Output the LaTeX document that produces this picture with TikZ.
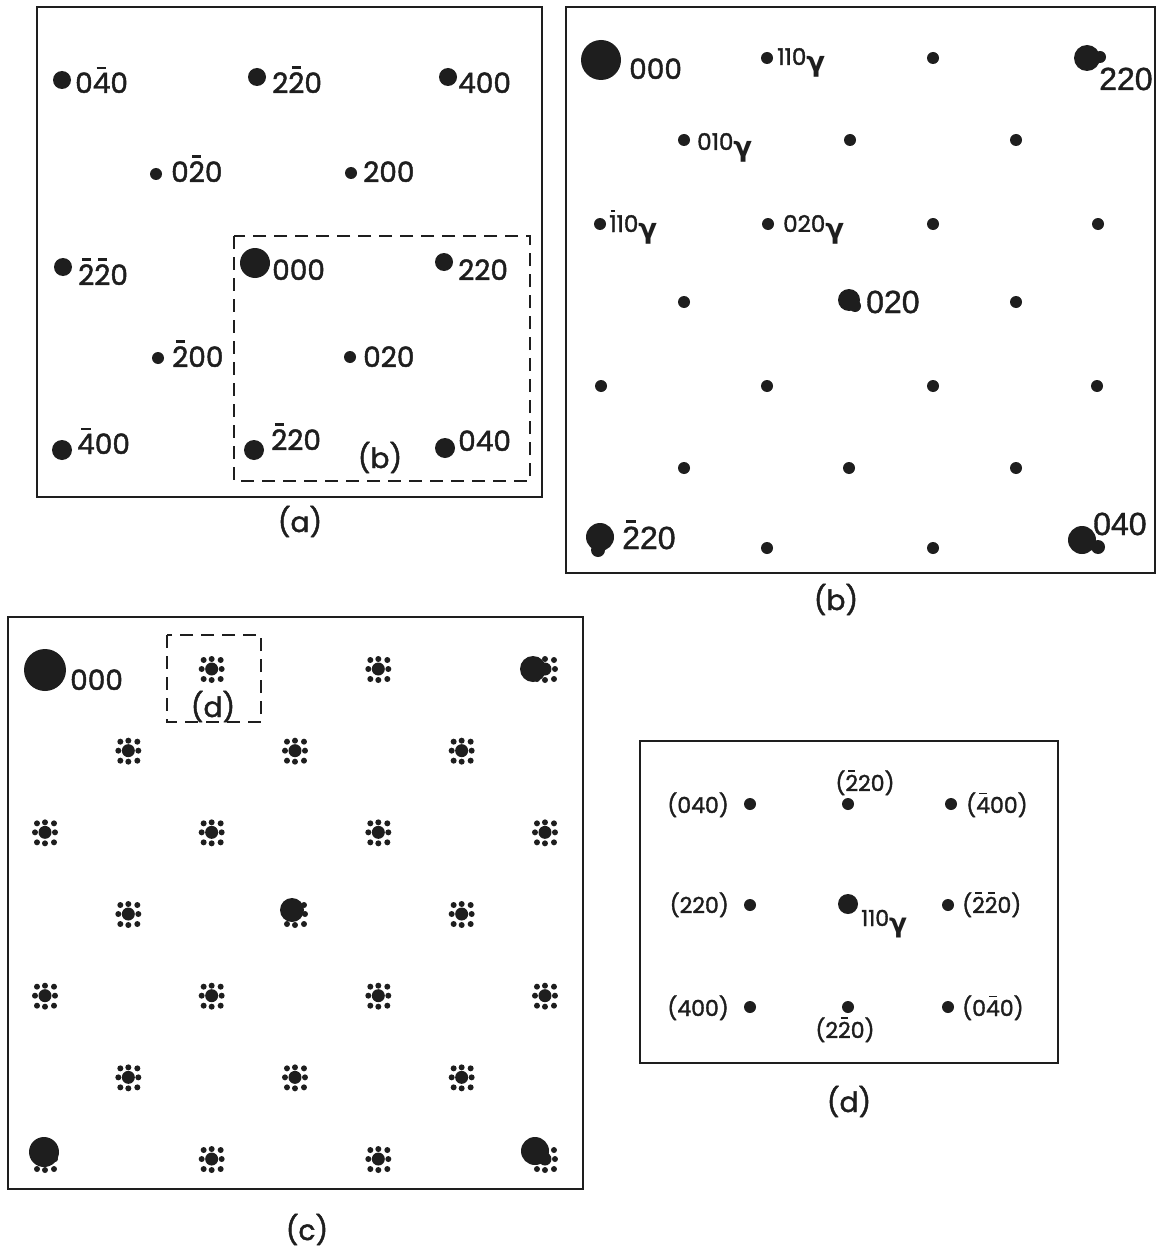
\documentclass[tikz,border=0pt]{standalone}
\usepackage{fontspec}
\setmainfont{Poppins}[BoldFont=Poppins,BoldFeatures={FakeBold=1.6}]
\newfontfamily\helv{Liberation Sans}[BoldFont=Liberation Sans,BoldFeatures={FakeBold=1.2}]
\newfontfamily\greekf{DejaVu Sans}
\definecolor{ink}{HTML}{1E1E1E}
\newsavebox\obbox
\newcommand\obar[1]{\leavevmode\sbox\obbox{#1}\rlap{\hbox to \wd\obbox{\hfil\raisebox{\dimexpr\ht\obbox+0.13em\relax}{\rule{0.55\wd\obbox}{0.085em}}\hfil}}\usebox\obbox}
\newcommand\gsub{\raisebox{-0.55ex}{\greekf\fontsize{1.2em}{1.2em}\selectfont γ}}
\newcommand\fa{\fontsize{28}{32}\selectfont\bfseries}
\newcommand\fb{\fontsize{23}{27}\selectfont\bfseries}
\newcommand\fbig{\helv\fontsize{32}{36}\selectfont\bfseries}
\newcommand\fdd{\fontsize{22}{26}\selectfont\bfseries}
\begin{document}
\begin{tikzpicture}[x=1pt,y=-1pt,
  spot/.style={circle,fill=ink,draw=none,inner sep=0pt,minimum size=#1},
  spot/.default=12pt,
  lbl/.style={anchor=base west,inner sep=0pt,text=ink},
  captxt/.style={anchor=base,inner sep=0pt,text=ink,font=\fa},
  frame/.style={draw=ink,line width=1.8pt},
  dbox/.style={draw=ink,line width=2.6pt,dash pattern=on 13pt off 8pt},
  cluster/.pic={
    \fill[ink] (0,0) circle (6.5pt);
    \foreach \dx/\dy in {-8/-9,0/-10,9/-9,-10/0,10/0,-8/10,0/11,9/10}
      \fill[ink] (\dx,\dy) circle (3pt);
  }]
\useasboundingbox (0,0) rectangle (1160,1252);

% ================= panel (a)
\draw[frame] (37,7) rectangle (542,497);
\draw[dbox] (234,236) rectangle (530,481);
\node[spot=18pt] (a1) at (62,80) {};
\node[lbl,font=\fa] (a1l) at (75,93) {0\obar{4}0};
\node[spot=18pt] (a2) at (257,77) {};
\node[lbl,font=\fa] (a2l) at (272,93) {2\obar{2}0};
\node[spot=18pt] (a3) at (448,77) {};
\node[lbl,font=\fa] (a3l) at (458,93) {400};
\node[spot=12pt] (a4) at (156,174) {};
\node[lbl,font=\fa] (a4l) at (171,182) {0\obar{2}0};
\node[spot=12pt] (a5) at (351,173) {};
\node[lbl,font=\fa] (a5l) at (363,182) {200};
\node[spot=18pt] (a6) at (63,267) {};
\node[lbl,font=\fa] (a6l) at (78,285) {\obar{2}\obar{2}0};
\node[spot=30pt] (a7) at (255,263) {};
\node[lbl,font=\fa] (a7l) at (272,280) {000};
\node[spot=18pt] (a8) at (444,262) {};
\node[lbl,font=\fa] (a8l) at (458,280) {220};
\node[spot=12pt] (a9) at (158,358) {};
\node[lbl,font=\fa] (a9l) at (172,367) {\obar{2}00};
\node[spot=12pt] (a10) at (350,357) {};
\node[lbl,font=\fa] (a10l) at (363,367) {020};
\node[spot=20pt] (a11) at (62,450) {};
\node[lbl,font=\fa] (a11l) at (77,454) {\obar{4}00};
\node[spot=20pt] (a12) at (254,450) {};
\node[lbl,font=\fa] (a12l) at (271,450) {\obar{2}20};
\node[spot=20pt] (a13) at (445,448) {};
\node[lbl,font=\fa] (a13l) at (458,451) {040};
\node[captxt] (abl) at (380,468) {(b)};
\node[captxt] (acap) at (300,532) {(a)};

% ================= panel (b)
\draw[frame] (566,7) rectangle (1155,573);
\node[spot=40pt] (b000) at (601,60) {};
\node[lbl,font=\fa] (b000l) at (629,79) {000};
\node[spot] (b110) at (767,58) {};
\node[lbl,font=\fb] (b110l) at (777,65) {110\gsub};
\node[spot] (b13) at (933,58) {};
\node[spot=26pt] (b220) at (1087,58) {};
\node[spot=12pt] (b220x) at (1100,57) {};
\node[lbl,font=\fbig] (b220l) at (1099,90) {220};
\node[spot] (b010) at (684,140) {};
\node[lbl,font=\fb] (b010l) at (697,150) {010\gsub};
\node[spot] (b22) at (850,140) {};
\node[spot] (b23) at (1016,140) {};
\node[spot] (bm110) at (600,224) {};
\node[lbl,font=\fb] (bm110l) at (609,232) {\obar{1}10\gsub};
\node[spot] (b020g) at (768,224) {};
\node[lbl,font=\fb] (b020gl) at (783,232) {020\gsub};
\node[spot] (b33) at (933,224) {};
\node[spot] (b34) at (1098,224) {};
\node[spot] (b41) at (684,302) {};
\node[spot=22pt] (b020) at (849,300) {};
\node[spot=12pt] (b020x) at (855,306) {};
\node[lbl,font=\fbig] (b020l) at (866,313) {020};
\node[spot] (b43) at (1016,302) {};
\node[spot] (b51) at (601,386) {};
\node[spot] (b52) at (767,386) {};
\node[spot] (b53) at (933,386) {};
\node[spot] (b54) at (1097,386) {};
\node[spot] (b61) at (684,468) {};
\node[spot] (b62) at (849,468) {};
\node[spot] (b63) at (1016,468) {};
\node[spot=28pt] (bm220) at (600,537) {};
\node[spot=14pt] (bm220x) at (598,550) {};
\node[lbl,font=\fbig] (bm220l) at (622,549) {\obar{2}20};
\node[spot] (b72) at (767,548) {};
\node[spot] (b73) at (933,548) {};
\node[spot=28pt] (b040) at (1082,540) {};
\node[spot=14pt] (b040x) at (1098,547) {};
\node[lbl,font=\fbig] (b040l) at (1093,535) {040};
\node[captxt] (bcap) at (836,610) {(b)};

% ================= panel (c)
\draw[frame] (8,617) rectangle (583,1189);
\draw[dbox] (167,635) rectangle (261,722);
\node[spot=42pt] (c000) at (45,670) {};
\node[lbl,font=\fa] (c000l) at (70,690) {000};
\foreach \i/\j in {2/0,4/0,6/0,
                   1/1,3/1,5/1,
                   0/2,2/2,4/2,6/2,
                   1/3,3/3,5/3,
                   0/4,2/4,4/4,6/4,
                   1/5,3/5,5/5,
                   0/6,2/6,4/6,6/6}
  \pic (cl\i\j) at ({45+83.33*\i},{669+81.67*\j}) {cluster};
\node[spot=26pt] (cb1) at (533,669) {};
\node[spot=24pt] (cb2) at (292,910) {};
\node[spot=30pt] (cb3) at (44,1152) {};
\node[spot=28pt] (cb4) at (535,1151) {};
\node[captxt] (cdl) at (213,717) {(d)};
\node[captxt] (ccap) at (307,1240) {(c)};

% ================= panel (d)
\draw[frame] (640,741) rectangle (1058,1063);
\node[spot] (d11) at (750,804) {};
\node[spot] (d12) at (848,804) {};
\node[spot] (d13) at (951,804) {};
\node[spot] (d21) at (750,905) {};
\node[spot=20pt] (d22) at (848,904) {};
\node[spot] (d23) at (948,905) {};
\node[spot] (d31) at (750,1007) {};
\node[spot] (d32) at (848,1007) {};
\node[spot] (d33) at (948,1007) {};
\node[lbl,font=\fdd,anchor=base east] (d11l) at (729,813) {(040)};
\node[lbl,font=\fdd,anchor=base] (d12l) at (865,791) {(\obar{2}20)};
\node[lbl,font=\fdd] (d13l) at (966,813) {(\obar{4}00)};
\node[lbl,font=\fdd,anchor=base east] (d21l) at (729,913) {(220)};
\node[lbl,font=\fdd] (d22l) at (861,926) {110\gsub};
\node[lbl,font=\fdd] (d23l) at (962,913) {(\obar{2}\obar{2}0)};
\node[lbl,font=\fdd,anchor=base east] (d31l) at (729,1016) {(400)};
\node[lbl,font=\fdd,anchor=base] (d32l) at (845,1038) {(2\obar{2}0)};
\node[lbl,font=\fdd] (d33l) at (962,1016) {(0\obar{4}0)};
\node[captxt] (dcap) at (849,1112) {(d)};
\end{tikzpicture}
\end{document}
